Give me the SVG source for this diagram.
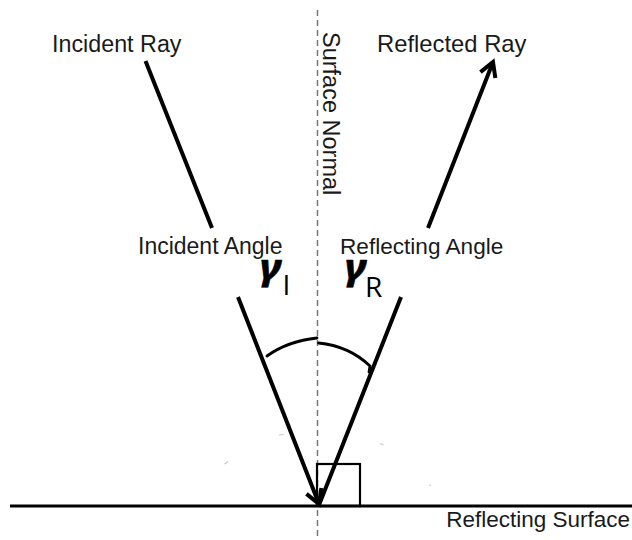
<svg xmlns="http://www.w3.org/2000/svg" width="632" height="540" viewBox="0 0 632 540">
<style>
.lbl{font-family:"Liberation Sans",Arial,sans-serif;font-size:23px;fill:#1a1a1a}
.ray{stroke:#000;stroke-width:4;fill:none;stroke-linecap:butt}
.gam{font-family:"Noto Sans","DejaVu Sans",sans-serif;font-weight:bold;font-style:italic;font-size:36px;fill:#000;stroke:#000;stroke-width:0.6}
.sub{font-family:"Open Sans","Noto Sans",sans-serif;font-size:28px;fill:#000}
.arc{stroke:#000;stroke-width:2.8;fill:none;stroke-linecap:round}
.faint{stroke:#c8c8c8;stroke-width:1.2;fill:none}
</style>
<defs>
<marker id="head" markerUnits="userSpaceOnUse" markerWidth="40" markerHeight="40" refX="0" refY="0" orient="auto" overflow="visible" viewBox="-20 -20 40 40">
<path d="M -14 -8 L 0 0 L -14 8" fill="none" stroke="#000" stroke-width="4" stroke-linejoin="miter"/>
</marker>
</defs>
<rect width="632" height="540" fill="#fff"/>

<g id="surface">
<line x1="10" y1="506" x2="632" y2="506" stroke="#000" stroke-width="3"/>
<text class="lbl" x="630" y="527" text-anchor="end" style="font-size:22.5px">Reflecting Surface</text>
</g>

<g id="normal">
<line x1="317.5" y1="10" x2="317.5" y2="540" stroke="#777" stroke-width="1.5" stroke-dasharray="6 4"/>
<text class="lbl" transform="translate(322.5,32) rotate(90)" style="font-size:23.5px">Surface Normal</text>
</g>

<g id="right-angle">
<rect x="317" y="464" width="43" height="42" fill="none" stroke="#000" stroke-width="2.2"/>
</g>

<g id="incident">
<text class="lbl" x="52" y="52" style="font-size:23.3px">Incident Ray</text>
<text class="lbl" x="138" y="253.5">Incident Angle</text>
<text class="gam" transform="translate(259.5,280) scale(1.2,1)">γ</text>
<text class="sub" x="282.5" y="295">I</text>
</g>

<g id="reflected">
<text class="lbl" x="377" y="52" style="font-size:23.8px">Reflected Ray</text>
<text class="lbl" x="340" y="254" style="font-size:22.6px">Reflecting Angle</text>
<text class="gam" transform="translate(344.5,280) scale(1.2,1)">γ</text>
<text class="sub" x="365" y="296.5">R</text>
</g>

<g id="connectors">
<line class="ray" x1="145.5" y1="61" x2="212" y2="228"/>
<line class="ray" x1="238" y1="297" x2="319" y2="504" marker-end="url(#head)"/>
<line class="ray" x1="319" y1="505" x2="401" y2="297"/>
<line class="ray" x1="428" y1="228" x2="493" y2="62" marker-end="url(#head)"/>
<path class="arc" d="M 267 356 Q 288 341 317 338"/>
<path class="arc" d="M 318.5 343 Q 349 346 370 366 L 369 372"/>
</g>

<g id="marks">
<line class="faint" x1="279" y1="435" x2="284" y2="434.5"/>
<line class="faint" x1="224.5" y1="464" x2="228" y2="461.5"/>
<line class="faint" x1="380" y1="443.5" x2="383.5" y2="445"/>
<line class="faint" x1="429.5" y1="484.5" x2="430.5" y2="486"/>
</g>
</svg>
